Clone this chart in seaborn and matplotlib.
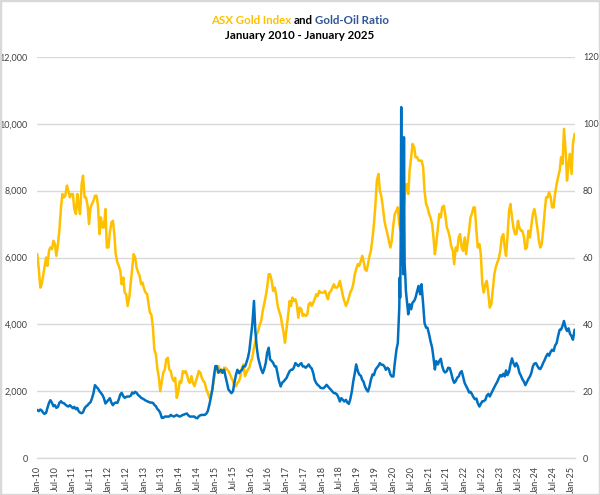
import pandas as pd
import seaborn as sns
import matplotlib.pyplot as plt
import matplotlib.dates as mdates
from matplotlib.ticker import FuncFormatter, MultipleLocator
from matplotlib.patches import Rectangle

# readings on the 1st and 15th of each month, Jan-2010 .. Feb-2025
dates = pd.date_range('2010-01-01', '2025-02-01', freq='SMS')

gold_index = [
    6100, 5700, 5100, 5200, 5450, 5700, 6000, 5750, 6200, 6300, 6250, 6500,
    6400, 6050, 6400, 6800, 7500, 7900, 7800, 7850, 8150, 8000, 7800, 7900,  # 2010
    7900, 7450, 7300, 7900, 7550, 7300, 8200, 8450, 7800, 7800, 7550, 7000,
    7500, 7600, 7700, 7850, 7850, 7550, 6700, 7200, 6900, 6900, 7450, 6300,  # 2011
    6300, 6750, 7050, 7100, 6700, 6100, 5850, 5750, 5600, 5200, 5400, 4950,
    4900, 4550, 4800, 5200, 5700, 6100, 6000, 5700, 5550, 5450, 5200, 5250,  # 2012
    5050, 4950, 4900, 4600, 4350, 4300, 3900, 3250, 3100, 2700, 2400, 2000,
    2300, 2550, 2650, 2950, 3000, 2650, 2600, 2400, 2300, 2400, 1800, 1950,  # 2013
    2300, 2250, 2600, 2550, 2600, 2500, 2300, 2250, 2450, 2250, 2150, 2300,
    2450, 2600, 2550, 2400, 2300, 2250, 2050, 1950, 1800, 1900, 2050, 2300,  # 2014
    2600, 2650, 2750, 2650, 2550, 2600, 2700, 2700, 2650, 2600, 2500, 2400,
    2300, 2150, 2150, 2250, 2300, 2450, 2700, 2800, 2450, 2550, 2650, 2700,  # 2015
    2900, 3000, 3300, 3500, 3700, 3800, 4000, 4100, 4400, 4600, 4850, 5100,
    5500, 5500, 5300, 5000, 5100, 4900, 4550, 4400, 4250, 4000, 3750, 3450,  # 2016
    3900, 4300, 4700, 4550, 4800, 4700, 4750, 4600, 4200, 4500, 4450, 4250,
    4300, 4250, 4300, 4600, 4650, 4550, 4650, 4750, 4900, 4850, 5000, 4950,  # 2017
    4950, 4950, 5000, 4850, 4750, 4950, 5000, 5100, 5200, 5100, 5100, 5150,
    5300, 5100, 4850, 4700, 4550, 4650, 4800, 4950, 5050, 5200, 5500, 5650,  # 2018
    5800, 5750, 5900, 6050, 5900, 5650, 5600, 5800, 6050, 6200, 6600, 7000,
    7600, 8300, 8500, 8000, 7800, 7500, 7100, 6900, 6700, 6500, 6300, 6500,  # 2019
    7000, 7300, 7400, 7500, 7000, 6800, 7000, 7500, 8000, 8200, 7900, 8600,
    9000, 9400, 9300, 9000, 9000, 8900, 8900, 8900, 8700, 8000, 7600, 7500,  # 2020
    7300, 7200, 7000, 6600, 6100, 6400, 6900, 7300, 7200, 7500, 7550, 7300,
    6900, 6800, 6600, 6350, 6200, 5800, 6300, 6200, 6600, 6700, 6300, 6200,  # 2021
    6600, 6100, 6500, 6800, 7200, 7300, 7500, 7500, 6800, 6300, 6400, 6100,
    5200, 4950, 5200, 5300, 4900, 4500, 4600, 5000, 5500, 5700, 5850, 5950,  # 2022
    6200, 6600, 6700, 6300, 6050, 6600, 7400, 7600, 7200, 6900, 6700, 6700,
    7100, 6900, 6800, 6800, 6600, 6250, 6300, 6800, 6600, 6950, 7300, 7450,  # 2023
    7200, 6900, 6500, 6300, 6400, 6800, 7400, 7800, 7800, 7950, 7800, 7500,
    7500, 7900, 8200, 8400, 8600, 9000, 8800, 9850, 9200, 8300, 8800, 9100,  # 2024
    8500, 9400, 9700,
]

gold_oil = [
    14.4, 14.0, 14.5, 14.2, 13.6, 13.2, 13.5, 15.0, 16.5, 17.3, 16.5, 15.5,
    15.8, 15.0, 15.3, 16.5, 17.0, 16.5, 16.4, 16.0, 15.6, 15.4, 15.8, 15.4,  # 2010
    14.9, 15.3, 14.6, 15.0, 14.0, 13.6, 13.4, 13.7, 14.9, 15.4, 15.8, 16.3,
    16.7, 17.8, 19.5, 21.8, 21.2, 20.8, 20.0, 19.5, 18.8, 17.9, 16.3, 16.8,  # 2011
    17.4, 17.9, 16.5, 15.8, 16.4, 16.6, 16.5, 17.5, 19.0, 19.5, 18.5, 18.0,
    18.3, 18.4, 18.4, 18.6, 19.6, 19.3, 19.8, 19.5, 18.8, 18.5, 18.0, 17.8,  # 2012
    17.5, 17.2, 17.0, 16.8, 16.6, 16.6, 16.5, 15.9, 15.5, 14.7, 14.2, 13.5,
    12.0, 12.0, 12.4, 12.4, 12.4, 12.4, 12.9, 12.6, 12.4, 12.6, 12.9, 12.6,  # 2013
    12.4, 12.6, 12.9, 13.0, 13.2, 13.3, 12.7, 12.4, 12.4, 12.4, 12.4, 12.0,
    11.9, 12.5, 12.8, 12.9, 12.9, 12.9, 13.3, 14.0, 16.0, 18.0, 20.5, 24.0,  # 2014
    27.5, 27.5, 25.5, 26.0, 26.4, 25.5, 26.4, 24.4, 22.4, 20.5, 19.9, 19.4,
    20.0, 22.5, 25.0, 26.4, 25.4, 26.0, 26.4, 27.4, 27.4, 28.5, 30.0, 32.0,  # 2015
    36.5, 40.0, 47.0, 38.0, 33.0, 30.0, 28.0, 26.5, 25.4, 26.5, 28.5, 31.5,
    33.0, 29.5, 29.0, 28.5, 27.4, 27.4, 25.0, 23.0, 21.4, 22.5, 22.9, 23.4,  # 2016
    24.0, 25.0, 26.0, 26.4, 26.4, 27.0, 28.4, 28.0, 27.5, 28.0, 28.4, 27.4,
    27.4, 27.0, 27.5, 28.0, 27.2, 26.8, 25.4, 23.4, 22.4, 21.9, 21.5, 21.0,  # 2017
    20.9, 20.9, 21.4, 21.9, 21.4, 20.9, 20.4, 19.9, 19.4, 19.4, 19.0, 18.2,
    16.9, 17.9, 17.4, 16.9, 17.4, 16.6, 16.2, 17.5, 20.0, 22.9, 25.4, 28.0,  # 2018
    26.0, 25.0, 24.6, 23.4, 22.8, 21.4, 20.4, 19.9, 21.4, 23.4, 25.0, 24.8,
    26.4, 27.0, 27.6, 28.4, 27.9, 27.9, 27.4, 26.4, 27.0, 26.6, 25.0, 24.4,  # 2019
    24.4, 28.4, 32.4, 34.4, 45.0, 62.0, 60.0, 65.0, 55.0, 48.0, 43.0, 46.0,
    44.5, 46.5, 47.0, 48.0, 50.0, 51.5, 49.0, 52.0, 46.0, 40.4, 39.0, 39.0,  # 2020
    37.0, 35.0, 33.0, 30.0, 26.5, 29.0, 28.0, 29.0, 29.7, 27.5, 26.0, 25.6,
    26.0, 27.0, 26.9, 25.5, 23.5, 22.5, 23.0, 24.0, 24.4, 25.5, 26.0, 24.4,  # 2021
    22.4, 21.6, 20.6, 19.6, 19.8, 19.2, 18.2, 17.6, 17.8, 16.4, 15.4, 16.2,
    17.0, 17.0, 17.4, 18.6, 19.2, 18.4, 19.4, 20.2, 21.2, 22.0, 22.8, 23.8,  # 2022
    24.8, 24.4, 25.2, 24.4, 26.2, 24.8, 25.8, 28.0, 29.8, 28.4, 27.4, 28.4,
    27.4, 25.6, 24.6, 23.6, 22.8, 21.8, 22.8, 23.6, 24.4, 25.4, 27.4, 28.2,  # 2023
    28.4, 27.6, 26.8, 26.6, 27.4, 28.4, 29.4, 30.4, 31.2, 30.6, 31.8, 32.4,
    32.0, 33.6, 34.4, 36.4, 38.4, 38.4, 39.6, 41.0, 39.0, 38.0, 38.8, 37.2,  # 2024
    36.4, 35.4, 38.4,
]

# extra readings through the 2020 oil crash spike
spike_dates = ['2020-03-06', '2020-03-10', '2020-03-21', '2020-03-25', '2020-04-06',
               '2020-04-10', '2020-04-18', '2020-04-22', '2020-04-25', '2020-05-08']
spike_ratio = [54, 48, 105, 58, 70, 55, 96, 70, 58, 50]

GOLD = '#FFC000'
BLUE = '#0070C0'
TITLE_BLUE = '#2F5597'
GRID = '#D9D9D9'
TXT = '#404040'

sns.set_style('white')
plt.rcParams['font.family'] = ['Lato', 'DejaVu Sans']

gold_df = pd.DataFrame({'date': dates, 'value': gold_index})
ratio_df = pd.concat([
    pd.DataFrame({'date': dates, 'value': gold_oil}),
    pd.DataFrame({'date': pd.to_datetime(spike_dates), 'value': spike_ratio}),
]).sort_values('date')

fig = plt.figure(figsize=(6, 4.95), dpi=100)
ax = fig.add_axes([37.3 / 600, 1 - 458 / 495, 537.3 / 600, 401 / 495])
ax2 = ax.twinx()

sns.lineplot(data=gold_df, x='date', y='value', ax=ax, color=GOLD, lw=1.8)
sns.lineplot(data=ratio_df, x='date', y='value', ax=ax2, color=BLUE, lw=1.8)

ax.set_xlim(pd.Timestamp('2010-01-01'), pd.Timestamp('2025-02-01'))
ax.set_ylim(0, 12000)
ax2.set_ylim(0, 120)
ax.yaxis.set_major_locator(MultipleLocator(2000))
ax2.yaxis.set_major_locator(MultipleLocator(20))
ax.yaxis.set_major_formatter(FuncFormatter(lambda v, p: f'{v:,.0f}'))
ax.xaxis.set_major_locator(mdates.MonthLocator(bymonth=[1, 7]))
ax.xaxis.set_major_formatter(mdates.DateFormatter('%b-%y'))

ax.grid(axis='y', color=GRID, lw=1)
ax.grid(axis='x', visible=False)
for a in (ax, ax2):
    a.set_xlabel('')
    a.set_ylabel('')
    for s in ('top', 'left', 'right'):
        a.spines[s].set_visible(False)
ax2.spines['bottom'].set_visible(False)
ax.spines['bottom'].set_color(GRID)
ax.spines['bottom'].set_linewidth(1)

ax.tick_params(axis='y', length=0, pad=7, labelsize=6.5, labelcolor=TXT)
ax2.tick_params(axis='y', length=0, pad=6, labelsize=6.5, labelcolor=TXT)
ax.tick_params(axis='x', length=3.5, width=0.8, color=GRID, pad=2,
               labelsize=6.5, labelcolor=TXT, labelrotation=90)

# two-colour title
def title_line(parts, y, size):
    r = fig.canvas.get_renderer()
    gap = (fig.text(0, 0, 'a a', fontsize=size, fontweight='bold').get_window_extent(r).width
           - fig.text(0, 0, 'aa', fontsize=size, fontweight='bold').get_window_extent(r).width)
    for t in fig.texts[-2:]:
        t.remove()
    texts = [fig.text(0, y, s, color=c, fontsize=size, fontweight='bold', va='center')
             for s, c in parts]
    widths = [t.get_window_extent(r).width for t in texts]
    total = sum(widths) + gap * (len(parts) - 1)
    x = fig.bbox.width / 2 - total / 2
    for t, w in zip(texts, widths):
        t.set_x(x / fig.bbox.width)
        x += w + gap

title_line([('ASX Gold Index', GOLD), ('and', 'black'), ('Gold-Oil Ratio', TITLE_BLUE)],
           1 - 20 / 495, 8.3)
title_line([('January 2010 - January 2025', 'black')], 1 - 35.5 / 495, 8.3)

fig.patches.append(Rectangle((0, 0), 1, 1, transform=fig.transFigure, fill=False,
                             ec=GRID, lw=2.5))

plt.savefig('out.png', dpi=100)
